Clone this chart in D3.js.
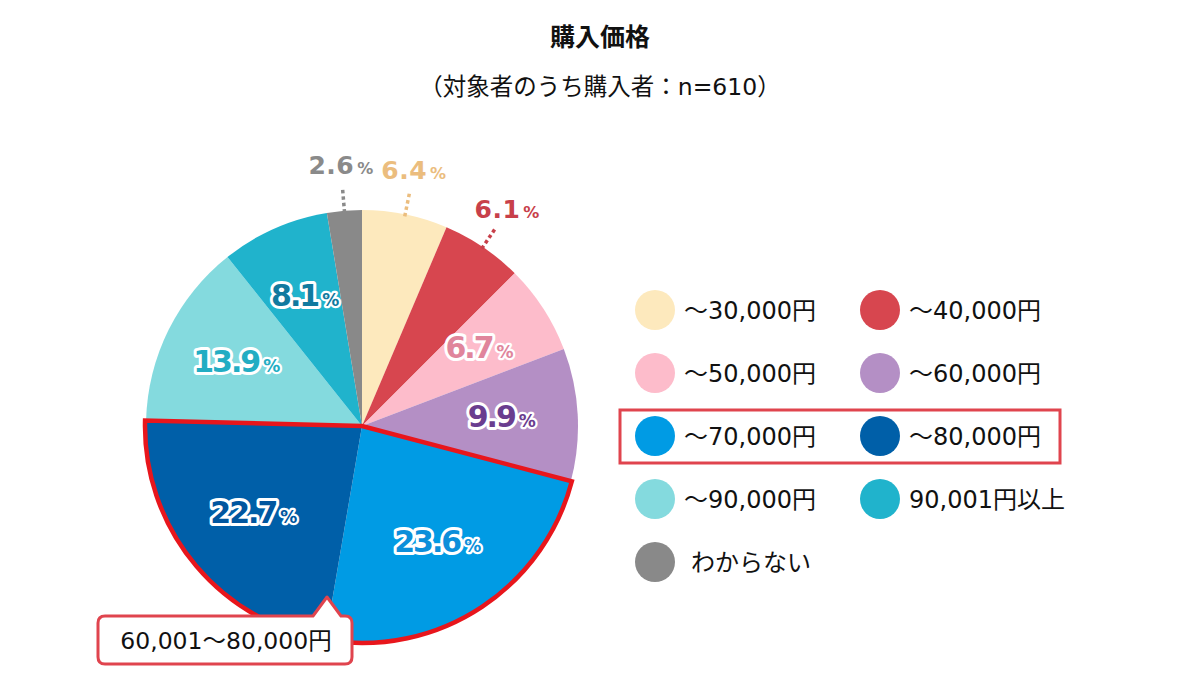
<!DOCTYPE html>
<html>
<head>
<meta charset="utf-8">
<script src="https://cdn.jsdelivr.net/npm/d3@7/dist/d3.min.js"></script>
<style>
  html, body { margin: 0; padding: 0; background: #fff; }
  svg { display: block; }
  .jp { font-family: "DejaVu Sans", "Noto Sans CJK JP", sans-serif; }
  .num { font-family: "DejaVu Sans", Verdana, sans-serif; font-weight: bold; }
</style>
</head>
<body>
<div id="chart"></div>
<script>
// 購入価格 — 円グラフ（n=610）
const categories = ["～30,000円", "～40,000円", "～50,000円", "～60,000円", "～70,000円",
                    "～80,000円", "～90,000円", "90,001円以上", "わからない"];
const values     = [6.4, 6.1, 6.7, 9.9, 23.6, 22.7, 13.9, 8.1, 2.6];
const fills      = ["#fde9bd", "#d7464f", "#fdbccb", "#b48fc5", "#009be4",
                    "#005fa8", "#84dade", "#20b3cc", "#898989"];
const labelInk   = ["#ebbd7e", "#c8404a", "#e0859c", "#6a3d8f", "#0c8fda",
                    "#00569f", "#22adc3", "#117a9f", "#8a8a8a"];
// 外側に出すラベル（小さい扇形）
const outside    = [true, true, false, false, false, false, false, false, true];
const highlight  = [4, 5]; // 60,001～80,000円

(() => {
  const width = 1200, height = 700;
  const cx = 362, cy = 426, R = 216;

  const svg = d3.select("#chart").append("svg")
    .attr("width", width).attr("height", height)
    .attr("viewBox", [0, 0, width, height]);

  // タイトル
  svg.append("text").attr("class", "jp")
    .attr("x", 600).attr("y", 46).attr("text-anchor", "middle")
    .attr("font-size", 25).attr("font-weight", "bold").attr("fill", "#111")
    .text("購入価格");
  svg.append("text").attr("class", "jp")
    .attr("x", 600).attr("y", 95).attr("text-anchor", "middle")
    .attr("font-size", 23.5).attr("fill", "#111")
    .text("（対象者のうち購入者：n=610）");

  const data = values.map((v, i) => ({ i, v, name: categories[i] }));
  const pie = d3.pie().sort(null).value(d => d.v).startAngle(0).endAngle(2 * Math.PI);
  const arcs = pie(data);
  const arc = d3.arc().innerRadius(0).outerRadius(R);

  const g = svg.append("g").attr("transform", `translate(${cx},${cy})`);

  // 1) 扇形
  g.selectAll("path.slice")
    .data(arcs)
    .join("path")
    .attr("class", "slice")
    .attr("d", arc)
    .attr("fill", d => fills[d.data.i]);

  // 2) 強調枠（～70,000円 + ～80,000円）
  const hl = {
    startAngle: arcs[highlight[0]].startAngle,
    endAngle: arcs[highlight[highlight.length - 1]].endAngle
  };
  g.append("path")
    .attr("d", d3.arc().innerRadius(0).outerRadius(R + 1)(hl))
    .attr("fill", "none")
    .attr("stroke", "#e8161c")
    .attr("stroke-width", 4.5)
    .attr("stroke-linejoin", "miter");

  // 3) 内側ラベル（白フチ）
  const inArc = d3.arc().innerRadius(140).outerRadius(140);
  const inLbl = g.selectAll("text.in")
    .data(arcs.filter(d => !outside[d.data.i]))
    .join("text")
    .attr("class", "in num")
    .attr("transform", d => `translate(${inArc.centroid(d)})`)
    .attr("text-anchor", "middle")
    .attr("dy", "0.5em")
    .attr("fill", d => labelInk[d.data.i])
    .attr("stroke", "#fff")
    .attr("stroke-width", 6)
    .attr("stroke-linejoin", "round")
    .attr("paint-order", "stroke");
  inLbl.append("tspan").attr("font-size", 30).attr("letter-spacing", -2)
    .text(d => d3.format(".1f")(d.data.v));
  inLbl.append("tspan").attr("font-size", 17).attr("dx", 4).attr("stroke-width", 4.5)
    .text("%");

  // 4) 外側ラベル + 点線
  const outs = arcs.filter(d => outside[d.data.i]);
  const mid = d => (d.startAngle + d.endAngle) / 2;
  const pt = (a, r) => [Math.sin(a) * r, -Math.cos(a) * r];

  g.selectAll("line.lead")
    .data(outs)
    .join("line")
    .attr("class", "lead")
    .attr("x1", d => pt(mid(d), 214)[0]).attr("y1", d => pt(mid(d), 214)[1])
    .attr("x2", d => pt(mid(d), 238)[0]).attr("y2", d => pt(mid(d), 238)[1])
    .attr("stroke", d => labelInk[d.data.i])
    .attr("stroke-width", 3.5)
    .attr("stroke-dasharray", "3.5,3");

  const outLbl = g.selectAll("text.out")
    .data(outs)
    .join("text")
    .attr("class", "out num")
    .attr("transform", d => `translate(${pt(mid(d), 259)})`)
    .attr("text-anchor", "middle")
    .attr("dy", "0.4em")
    .attr("fill", d => labelInk[d.data.i]);
  outLbl.append("tspan").attr("font-size", 25).attr("letter-spacing", 0.5)
    .text(d => d3.format(".1f")(d.data.v));
  outLbl.append("tspan").attr("font-size", 16).attr("dx", 3).text("%");

  // 5) 吹き出し
  const cb = { x: 98, y: 616, w: 254, h: 48, r: 7 };
  const call = svg.append("g");
  call.append("path")
    .attr("d", `M${cb.x + cb.r},${cb.y} H313 L327,597 L341,${cb.y} H${cb.x + cb.w - cb.r}
      Q${cb.x + cb.w},${cb.y} ${cb.x + cb.w},${cb.y + cb.r} V${cb.y + cb.h - cb.r}
      Q${cb.x + cb.w},${cb.y + cb.h} ${cb.x + cb.w - cb.r},${cb.y + cb.h} H${cb.x + cb.r}
      Q${cb.x},${cb.y + cb.h} ${cb.x},${cb.y + cb.h - cb.r} V${cb.y + cb.r}
      Q${cb.x},${cb.y} ${cb.x + cb.r},${cb.y} Z`)
    .attr("fill", "#fff")
    .attr("stroke", "#e0444e")
    .attr("stroke-width", 3)
    .attr("stroke-linejoin", "round");
  call.append("text").attr("class", "jp")
    .attr("x", cb.x + cb.w / 2 + 1).attr("y", cb.y + 33)
    .attr("text-anchor", "middle")
    .attr("font-size", 23.5).attr("fill", "#111")
    .text("60,001～80,000円");

  // 6) 凡例（2列）
  const colX = [655, 880], row0 = 310, rowH = 63;
  const leg = svg.append("g").selectAll("g.item")
    .data(data)
    .join("g")
    .attr("class", "item")
    .attr("transform", d => `translate(${colX[d.i % 2]},${row0 + Math.floor(d.i / 2) * rowH})`);
  leg.append("circle").attr("r", 20).attr("fill", d => fills[d.i]);
  leg.append("text").attr("class", "jp")
    .attr("x", d => d.name === "わからない" ? 36 : 29)
    .attr("dy", "0.36em")
    .attr("font-size", 24).attr("fill", "#111")
    .text(d => d.name);

  // 強調行の枠
  const hr = Math.floor(highlight[0] / 2);
  svg.append("rect")
    .attr("x", 620).attr("y", row0 + hr * rowH - 26)
    .attr("width", 440).attr("height", 53)
    .attr("fill", "none")
    .attr("stroke", "#e0444e")
    .attr("stroke-width", 3);
})();
</script>
</body>
</html>
